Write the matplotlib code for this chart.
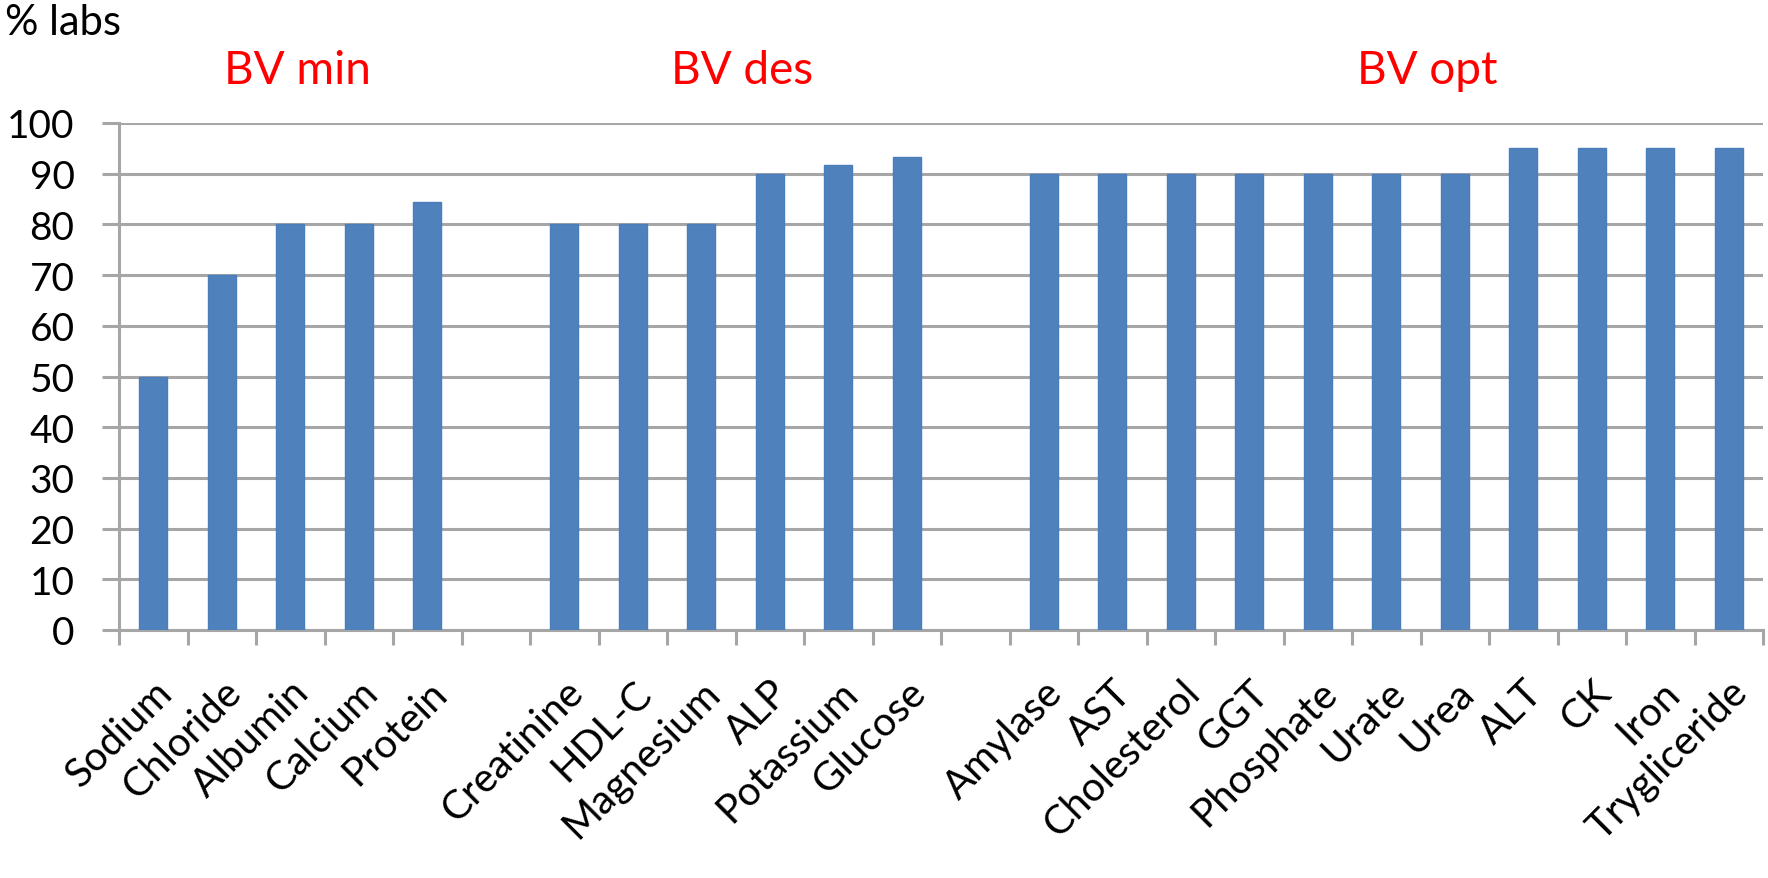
import matplotlib.pyplot as plt
import numpy as np

plt.rcParams['font.family'] = ['Lato', 'DejaVu Sans']

# three groups of analytes, one empty slot between groups
min_names = ['Sodium', 'Chloride', 'Albumin', 'Calcium', 'Protein']
min_values = [50, 70, 80, 80, 84.5]

des_names = ['Creatinine', 'HDL-C', 'Magnesium', 'ALP', 'Potassium', 'Glucose']
des_values = [80, 80, 80, 90, 91.7, 93.3]

opt_names = ['Amylase', 'AST', 'Cholesterol', 'GGT', 'Phosphate', 'Urate', 'Urea',
             'ALT', 'CK', 'Iron', 'Trygliceride']
opt_values = [90, 90, 90, 90, 90, 90, 90, 95, 95, 95, 95]

group_titles = ['BV min', 'BV des', 'BV opt']

names = []
values = []
positions = []
title_x = []
pos = 0
for g_names, g_values in [(min_names, min_values), (des_names, des_values), (opt_names, opt_values)]:
    start = pos
    for n, v in zip(g_names, g_values):
        names.append(n)
        values.append(v)
        positions.append(pos)
        pos += 1
    title_x.append((start + pos - 1) / 2 + 0.1)
    pos += 1  # gap slot
n_slots = pos - 1
title_x[2] += 0.5

W, H = 1768, 879
fig = plt.figure(figsize=(W / 100, H / 100), dpi=100)
ax = fig.add_axes([119 / W, 1 - 631 / H, (1763 - 119) / W, (631 - 124) / H])

grid_col = '#A6A6A6'
ax.bar(positions, values, width=0.41, color='#4F81BD', edgecolor='#4A7EBB', linewidth=1, zorder=3)

ax.set_xlim(-0.5, n_slots - 0.5)
ax.set_ylim(0, 100)
ax.set_yticks(np.arange(0, 101, 10))
ax.yaxis.grid(True, color=grid_col, linewidth=2.2, zorder=0)
ax.set_axisbelow(True)

for s in ['top', 'right']:
    ax.spines[s].set_visible(False)
for s in ['left', 'bottom']:
    ax.spines[s].set_color(grid_col)
    ax.spines[s].set_linewidth(2.2)

ax.tick_params(axis='y', length=12, width=2.2, color=grid_col, labelsize=28, pad=20)

# slot boundaries carry the tick marks, labels sit under the bars
ax.set_xticks(np.arange(-0.5, n_slots, 1.0))
ax.set_xticklabels([])
ax.tick_params(axis='x', which='major', length=11, width=2.2, color=grid_col)
ax.set_xticks(positions, minor=True)
ax.set_xticklabels(names, minor=True, rotation=45, ha='right', va='top',
                   rotation_mode='anchor', fontsize=29)
ax.tick_params(axis='x', which='minor', length=0, pad=31)

for t, x in zip(group_titles, title_x):
    ax.text(x, 107.8, t, color='#FF0000', fontsize=33, ha='center', va='baseline', clip_on=False)

fig.text(5 / W, 1 - 35 / H, '% labs', fontsize=30, ha='left', va='baseline')

fig.savefig('out.png', dpi=100, facecolor='white')
